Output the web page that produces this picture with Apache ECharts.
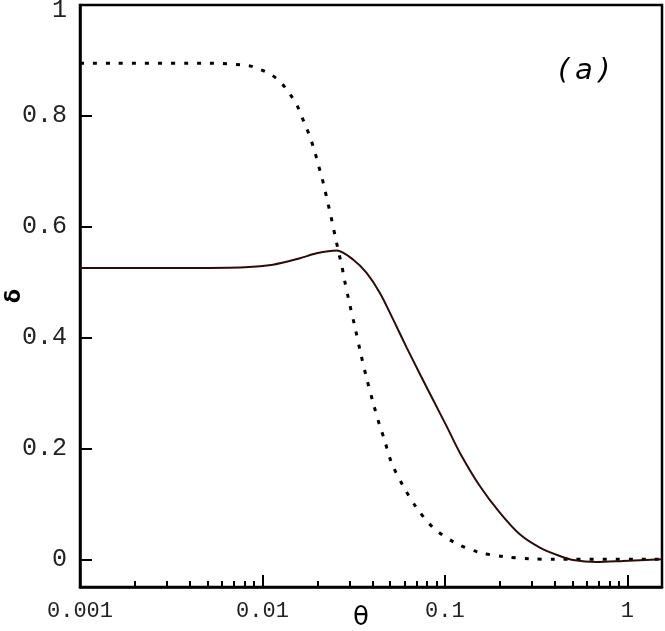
<!DOCTYPE html>
<html>
<head>
<meta charset="utf-8">
<script src="https://cdn.jsdelivr.net/npm/echarts@6/dist/echarts.min.js"></script>
<style>html,body{margin:0;padding:0;background:#fff}#c{width:665px;height:631px}</style>
</head>
<body>
<div id="c"></div>
<script>
// theta values and delta values
var dottedTheta = [0.001, 0.00502, 0.00835, 0.00969, 0.01122, 0.01273, 0.01402, 0.01538, 0.0164, 0.01746, 0.01845, 0.01941, 0.02023, 0.0211, 0.02199, 0.02275, 0.02364, 0.02443, 0.0253, 0.02609, 0.02716, 0.02797, 0.02991, 0.03215, 0.03454, 0.03724, 0.04048, 0.04405, 0.04632, 0.05104, 0.0591, 0.07, 0.0863, 0.1135, 0.1522, 0.2086, 0.2921, 0.4, 1.55];
var dottedDelta = [0.895, 0.895, 0.8906, 0.884, 0.874, 0.859, 0.841, 0.821, 0.799, 0.778, 0.757, 0.734, 0.712, 0.691, 0.667, 0.645, 0.622, 0.599, 0.577, 0.555, 0.532, 0.509, 0.464, 0.419, 0.372, 0.327, 0.282, 0.240, 0.219, 0.174, 0.132, 0.093, 0.057, 0.030, 0.013, 0.005, 0.001, 0.0, 0.0];
var solidTheta = [0.001, 0.004, 0.008, 0.01143, 0.01604, 0.01981, 0.02553, 0.03148, 0.03724, 0.04405, 0.05213, 0.06166, 0.07296, 0.0863, 0.1022, 0.1208, 0.1555, 0.2001, 0.2575, 0.3316, 0.4268, 0.5047, 0.6776, 0.9482, 1.55];
var solidDelta = [0.5256, 0.5257, 0.527, 0.5315, 0.543, 0.552, 0.557, 0.5405, 0.5166, 0.4805, 0.4324, 0.3824, 0.3344, 0.2873, 0.2402, 0.1923, 0.1321, 0.0841, 0.0450, 0.0211, 0.0059, -0.0013, -0.0049, -0.0031, 0.0];
var xMajorTicks = [0.001, 0.01, 0.1, 1];
var xMinorTicks = [0.002,0.003,0.004,0.005,0.006,0.007,0.008,0.009,0.02,0.03,0.04,0.05,0.06,0.07,0.08,0.09,0.2,0.3,0.4,0.5,0.6,0.7,0.8,0.9];
var yTicks = [0, 0.2, 0.4, 0.6, 0.8, 1];

function zip(a, b){ return a.map(function(v,i){ return [v, b[i]]; }); }

var chart = echarts.init(document.getElementById('c'), null, {renderer:'canvas'});
chart.setOption({
  animation:false,
  backgroundColor:'#fff',
  grid:{left:80, right:3, top:5, bottom:44, show:true, borderColor:'#000', borderWidth:2.5, containLabel:false, outerBoundsMode:'none'},
  xAxis:[{
    type:'log', min:0.001, max:1.55, logBase:10,
    name:'θ', nameLocation:'middle', nameGap:18, nameMoveOverlap:false,
    nameTextStyle:{fontFamily:'DejaVu Sans', fontSize:26, color:'#000', padding:[0,20,0,0]},
    axisLine:{show:true, onZero:false, lineStyle:{color:'#000', width:2.5}},
    axisTick:{show:true, inside:true, length:12, lineStyle:{color:'#000', width:2}, customValues:xMajorTicks},
    axisLabel:{margin:13, customValues:xMajorTicks, fontFamily:'Liberation Mono', fontSize:22, color:'#222', formatter:function(v){
      if (Math.abs(v-0.001)<1e-9) return '0.001';
      if (Math.abs(v-0.01)<1e-9) return '0.01';
      if (Math.abs(v-0.1)<1e-9) return '0.1';
      return '1';
    }},
    splitLine:{show:false}, minorTick:{show:false}
  },{
    type:'log', min:0.001, max:1.55, logBase:10, position:'bottom',
    axisLine:{show:false, onZero:false},
    axisTick:{show:true, inside:true, length:6, lineStyle:{color:'#000', width:2}, customValues:xMinorTicks},
    axisLabel:{show:false}, splitLine:{show:false}
  }],
  yAxis:{
    type:'value', min:-0.05, max:1,
    name:'δ', nameLocation:'middle', nameGap:55, nameMoveOverlap:false,
    nameTextStyle:{fontFamily:'DejaVu Sans', fontSize:21, color:'#000', fontWeight:'bold'},
    axisLine:{show:true, lineStyle:{color:'#000', width:2.5}},
    axisTick:{show:true, inside:true, length:12, lineStyle:{color:'#000', width:2}, customValues:yTicks},
    axisLabel:{margin:13, customValues:yTicks, fontFamily:'Liberation Mono', fontSize:25, color:'#222',
      formatter:function(v){ var s = String(Math.round(v*10)/10); return v > 0.95 ? '{top|' + s + '}' : s; },
      rich:{top:{fontFamily:'Liberation Mono', fontSize:25, color:'#222', padding:[10,0,0,0]}}},
    splitLine:{show:false}
  },
  graphic:[{type:'text', left:558, top:57, style:{text:'(\u2009a\u2009)', font:'italic 29px "DejaVu Sans"', fill:'#000'}}],
  series:[{
    type:'line', data:zip(dottedTheta, dottedDelta), showSymbol:false, smooth:0.3,
    lineStyle:{color:'#000', width:3, type:[4,9], cap:'butt'}
  },{
    type:'line', data:zip(solidTheta, solidDelta), showSymbol:false, smooth:0.3,
    lineStyle:{color:'#2a0c0c', width:2}
  }]
});
</script>
</body>
</html>
